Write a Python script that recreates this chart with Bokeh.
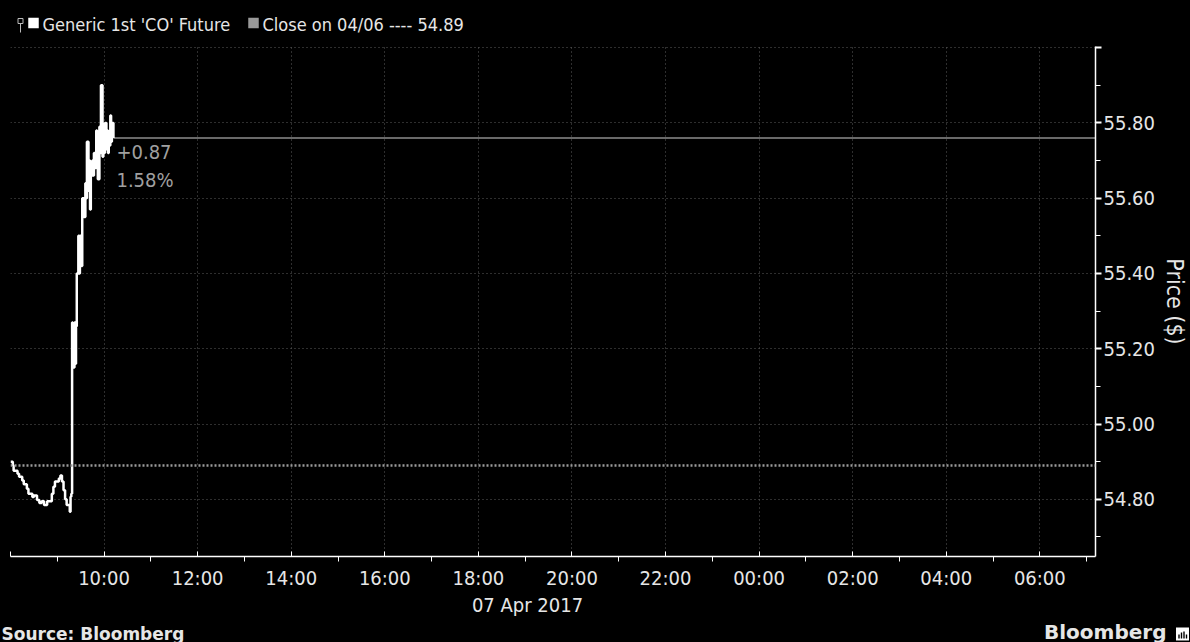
from bokeh.plotting import figure
from bokeh.layouts import column
from bokeh.models import FixedTicker, Span, Label, Range1d
from bokeh.core.properties import value
from bokeh.embed import file_html
from bokeh.resources import INLINE

# ---------------- data ----------------
times = ["08:00", "08:03", "08:04", "08:09", "08:11", "08:15", "08:17", "08:21", "08:23", "08:28",
         "08:30", "08:34", "08:37", "08:40", "08:43", "08:47", "08:51", "08:53", "08:55", "08:57",
         "09:02", "09:04", "09:06", "09:08", "09:10", "09:12", "09:16", "09:17", "09:18", "09:19",
         "09:20", "09:22", "09:23", "09:24", "09:25", "09:27", "09:28", "09:29", "09:31", "09:32",
         "09:34", "09:36", "09:37", "09:38", "09:40", "09:41", "09:42", "09:43", "09:45", "09:46",
         "09:47", "09:48", "09:50", "09:51", "09:52", "09:54", "09:55", "09:56", "09:58", "09:59",
         "10:00", "10:01", "10:03", "10:04", "10:05", "10:06", "10:08", "10:09", "10:10", "10:12"]
prices = [54.90, 54.89, 54.876, 54.868, 54.86, 54.85, 54.84, 54.828, 54.815, 54.806,
          54.81, 54.798, 54.79, 54.795, 54.785, 54.795, 54.795, 54.815, 54.833, 54.847,
          54.855, 54.863, 54.847, 54.824, 54.80, 54.785, 54.767, 54.807, 54.815, 55.27,
          55.15, 55.27, 55.16, 55.26, 55.40, 55.50, 55.40, 55.50, 55.42, 55.60,
          55.55, 55.64, 55.60, 55.75, 55.62, 55.70, 55.57, 55.66, 55.70, 55.66,
          55.72, 55.68, 55.78, 55.74, 55.65, 55.79, 55.72, 55.90, 55.71, 55.74,
          55.72, 55.80, 55.73, 55.78, 55.72, 55.74, 55.82, 55.75, 55.80, 55.76]
close_price = 54.89
change_label = "+0.87"
pct_label = "1.58%"
series_name = "Generic 1st 'CO' Future"
close_name = "Close on 04/06 ---- 54.89"
date_label = "07 Apr 2017"
x_tick_labels = ["08:00", "10:00", "12:00", "14:00", "16:00", "18:00", "20:00",
                 "22:00", "00:00", "02:00", "04:00", "06:00"]
y_ticks = [54.8, 55.0, 55.2, 55.4, 55.6, 55.8, 56.0]
y_minor = [54.7, 54.9, 55.1, 55.3, 55.5, 55.7, 55.9]
y_axis_title = "Price ($)"
source_text = "Source: Bloomberg"
brand_text = "Bloomberg"

FONT = "DejaVu Sans Condensed"
TXT = "#e6e6e6"
W = 1190


def to_h(s):
    h, m = map(int, s.split(":"))
    v = h + m / 60 - 8
    return v if v >= 0 else v + 24


x = [to_h(t) for t in times]
x_ticks = [int(round(to_h(s))) for s in x_tick_labels]
x_minor = [t + 1 for t in x_ticks]
x_end = 23.19
last_x, last_price = x[-1], prices[-1]


def blank_fig(h):
    f = figure(width=W, height=h, output_backend="svg", toolbar_location=None,
               x_range=Range1d(0, W), y_range=Range1d(0, h),
               background_fill_color="black", border_fill_color="black",
               min_border=0, min_border_left=0, min_border_right=0,
               min_border_top=0, min_border_bottom=0, frame_align=False)
    f.outline_line_color = None
    f.axis.visible = False
    f.grid.visible = False
    return f


# ---------------- header (legend) ----------------
HH = 38
hdr = blank_fig(HH)
LY = HH - 23.5
hdr.rect(x=[20], y=[HH - 20.5], width=5, height=5, fill_color=None, line_color="#bbbbbb", line_width=1)
hdr.segment(x0=[20], y0=[HH - 23], x1=[20], y1=[HH - 32], line_color="#bbbbbb", line_width=1)
hdr.rect(x=[33, 253], y=[HH - 22.5, HH - 22.5], width=10.5, height=10.5,
         fill_color=["white", "#9a9a9a"], line_color=None)
hdr.text(x=[42, 262], y=[LY, LY], text=[series_name, close_name], text_color=TXT,
         text_font=value(FONT), text_font_size="18px", text_baseline="middle", text_align="left")

# ---------------- main chart ----------------
p = figure(width=W, height=554, output_backend="svg", toolbar_location=None,
           x_range=Range1d(0, x_end), y_range=Range1d(54.648, 56.003),
           y_axis_location="right", frame_align=False,
           background_fill_color="black", border_fill_color="black",
           min_border_left=10, min_border_right=90, min_border_top=8, min_border_bottom=29)
p.outline_line_color = None

xa = p.xaxis[0]
xa.ticker = FixedTicker(ticks=x_ticks, minor_ticks=x_minor)
xa.major_label_overrides = {t: (lab if i > 0 else "") for i, (t, lab) in enumerate(zip(x_ticks, x_tick_labels))}
xa.axis_line_color = "white"
xa.axis_line_width = 1.5
xa.major_tick_in = 5
xa.major_tick_out = 0
xa.major_tick_line_color = "white"
xa.minor_tick_in = 0
xa.minor_tick_out = 5
xa.minor_tick_line_color = "white"
xa.major_label_text_color = TXT
xa.major_label_text_font = FONT
xa.major_label_text_font_size = "20px"
xa.major_label_standoff = 4

ya = p.yaxis[0]
ya.ticker = FixedTicker(ticks=y_ticks, minor_ticks=y_minor)
ya.major_label_overrides = {t: (f"{t:.2f}" if t < 55.99 else "") for t in y_ticks}
ya.axis_line_color = "white"
ya.axis_line_width = 1.5
ya.major_tick_in = 0
ya.major_tick_out = 6
ya.major_tick_line_color = "white"
ya.major_tick_line_width = 2
ya.minor_tick_in = 0
ya.minor_tick_out = 5
ya.minor_tick_line_color = "white"
ya.major_label_text_color = TXT
ya.major_label_text_font = FONT
ya.major_label_text_font_size = "20px"
ya.major_label_standoff = 2
ya.axis_label = y_axis_title
ya.axis_label_text_color = TXT
ya.axis_label_text_font = FONT
ya.axis_label_text_font_size = "23px"
ya.axis_label_text_font_style = "normal"
ya.axis_label_standoff = 4

for g in (p.xgrid[0], p.ygrid[0]):
    g.grid_line_color = "#5c5c5c"
    g.grid_line_dash = "1 3"
    g.grid_line_width = 1

p.add_layout(Span(location=close_price, dimension="width", line_color="#9a9a9a",
                  line_dash="2 2", line_width=2.5))
p.segment(x0=[last_x], y0=[last_price], x1=[x_end], y1=[last_price],
          line_color="#8c8c8c", line_width=1.5)
p.step(x=x, y=prices, mode="after", line_color="white", line_width=2.5)

for txt, off in ((change_label, -14), (pct_label, -42)):
    p.add_layout(Label(x=last_x, y=last_price, x_offset=3, y_offset=off, text=txt,
                       text_baseline="middle", text_align="left", text_color="#a0a0a0",
                       text_font=FONT, text_font_size="20px"))

# ---------------- footer ----------------
FH = 50
ftr = blank_fig(FH)
ftr.text(x=[527], y=[FH - 12], text=[date_label], text_color=TXT, text_font=value(FONT),
         text_font_size="20px", text_baseline="middle", text_align="center")
ftr.text(x=[1], y=[FH - 41], text=[source_text], text_color=TXT, text_font=value("DejaVu Sans"),
         text_font_size="17px", text_font_style="bold", text_baseline="middle", text_align="left")
ftr.text(x=[1166], y=[FH - 39], text=[brand_text], text_color=TXT, text_font=value("DejaVu Sans"),
         text_font_size="20px", text_font_style="bold", text_baseline="middle", text_align="right")
ftr.rect(x=[1182], y=[FH - 41.5], width=13, height=13, fill_color="white", line_color=None)
ftr.rect(x=[1178.5, 1181, 1183.5, 1186], y=[FH - 44, FH - 43, FH - 42.5, FH - 44],
         width=1.4, height=[4, 6, 7, 4], fill_color="black", line_color=None)

layout = column(hdr, p, ftr, spacing=0, styles={"background-color": "black"})
open("out.html", "w").write(file_html(layout, INLINE))
